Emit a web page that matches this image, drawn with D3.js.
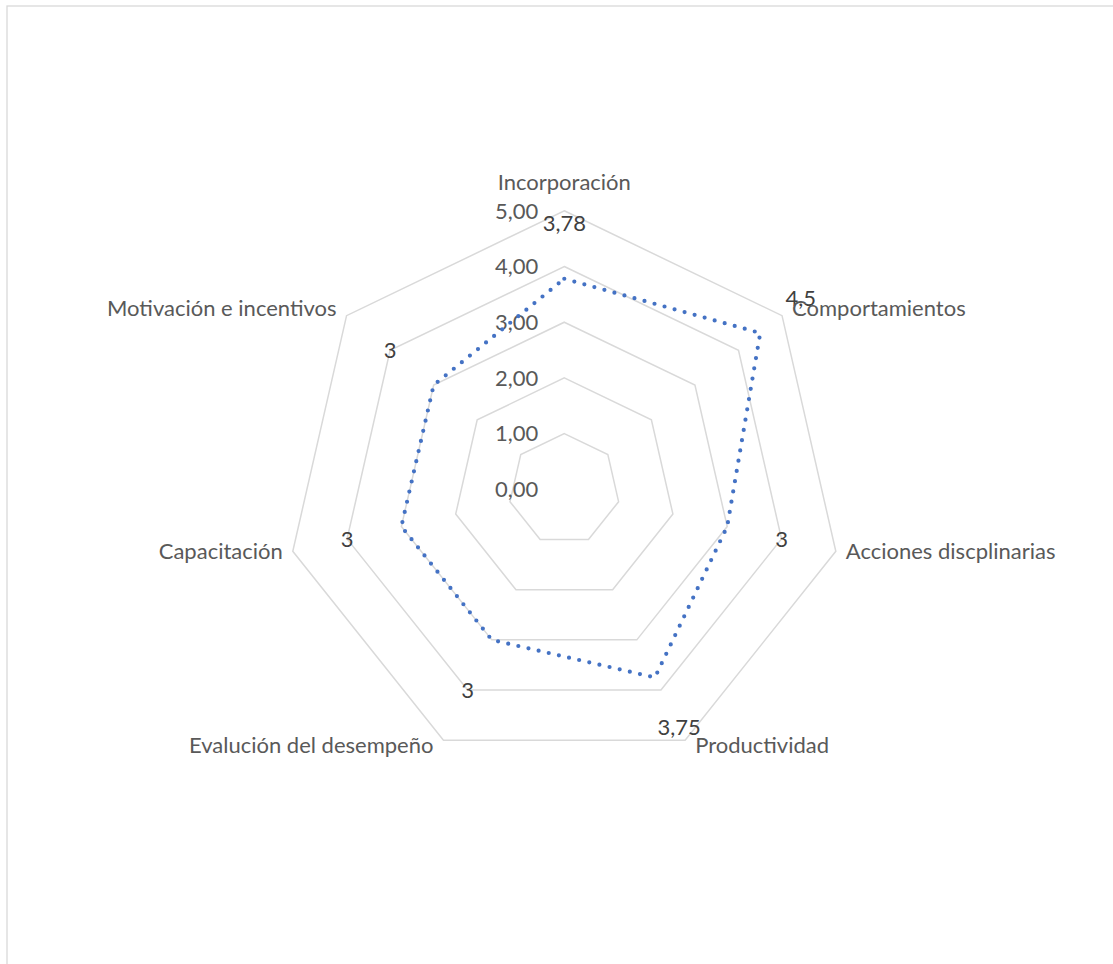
<!DOCTYPE html>
<html><head><meta charset="utf-8">
<script src="https://cdn.jsdelivr.net/npm/d3@7"></script>
<style>html,body{margin:0;padding:0;background:#fff;}svg{display:block;}</style>
</head><body>
<svg id="chart" width="1113" height="964"></svg>
<script>
const categories = ["Incorporación","Comportamientos","Acciones discplinarias","Productividad","Evalución del desempeño","Capacitación","Motivación e incentivos"];
const values = [3.78, 4.5, 3, 3.75, 3, 3, 3];
const valueLabels = ["3,78","4,5","3","3,75","3","3","3"];
const tickValues = [0,1,2,3,4,5];
const tickLabels = ["0,00","1,00","2,00","3,00","4,00","5,00"];

const svg = d3.select("#chart");
const cx = 564.3, cy = 489.3, R = 278.5;
const font = "Lato, 'Open Sans', sans-serif";
const textColor = "#595959";
const fs = 22;

svg.append("rect").attr("x",7).attr("y",6).attr("width",1300).attr("height",1300)
  .attr("fill","none").attr("stroke","#d9d9d9").attr("stroke-width",1.3);

const r = d3.scaleLinear().domain([0,5]).range([0,R]);
const n = categories.length;
const ang = i => i*2*Math.PI/n;
const pt = (i,v) => [cx + r(v)*Math.sin(ang(i)), cy - r(v)*Math.cos(ang(i))];

const g = svg.append("g");
// grid polygons
tickValues.filter(t=>t>0).forEach(t=>{
  g.append("path")
    .attr("d", d3.line()(d3.range(n).map(i=>pt(i,t))) + "Z")
    .attr("fill","none").attr("stroke","#d9d9d9").attr("stroke-width",1.5);
});

// tick labels
g.selectAll(".tick").data(tickValues).join("text")
  .attr("x", cx-26).attr("y", d=>cy - r(d)).attr("dy","0.35em")
  .attr("text-anchor","end").attr("fill",textColor)
  .attr("font-family",font).attr("font-size",fs)
  .text((d,i)=>tickLabels[i]);

// series
const lineGen = d3.lineRadial().angle((d,i)=>ang(i)).radius(d=>r(d)).curve(d3.curveLinearClosed);
g.append("path").attr("transform",`translate(${cx},${cy})`)
  .attr("d", lineGen(values))
  .attr("fill","none").attr("stroke","#4472c4").attr("stroke-width",4.2)
  .attr("stroke-linecap","round").attr("stroke-dasharray","0 10.4");

// data labels
g.selectAll(".dl").data(values).join("text")
  .attr("x",(d,i)=>pt(i,d+1)[0] - (i===1?3:0)).attr("y",(d,i)=>pt(i,d+1)[1]).attr("dy","0.35em")
  .attr("text-anchor","middle").attr("fill","#404040")
  .attr("font-family",font).attr("font-size",fs)
  .text((d,i)=>valueLabels[i]);

// category labels
g.selectAll(".cat").data(categories).join("text")
  .each(function(d,i){
    const [vx,vy] = pt(i,5);
    const s = Math.sin(ang(i)), c = Math.cos(ang(i));
    let x = vx, y = vy, anchor = "middle";
    if (Math.abs(s) < 0.01) { y = vy - 29; }
    else { anchor = s > 0 ? "start" : "end"; x = vx + (s>0?10:-10); y = vy - c*8 - 2; }
    d3.select(this).attr("x",x).attr("y",y).attr("dy","0.35em").attr("text-anchor",anchor);
  })
  .attr("fill",textColor).attr("font-family",font).attr("font-size",fs)
  .text(d=>d);
</script>
</body></html>
